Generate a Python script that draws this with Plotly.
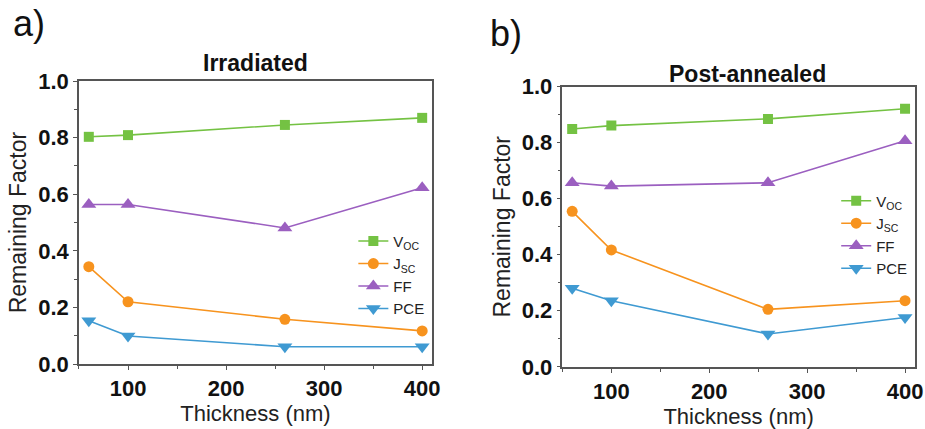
import plotly.graph_objects as go

# Thickness of the absorber layer (nm)
thickness = [60, 100, 260, 400]

# Remaining factor after proton irradiation
irr_voc = [0.803, 0.809, 0.845, 0.870]
irr_jsc = [0.344, 0.220, 0.158, 0.117]
irr_ff = [0.564, 0.564, 0.481, 0.623]
irr_pce = [0.153, 0.099, 0.061, 0.061]

# Remaining factor after post-annealing
ann_voc = [0.849, 0.861, 0.885, 0.921]
ann_jsc = [0.555, 0.417, 0.205, 0.236]
ann_ff = [0.657, 0.645, 0.657, 0.807]
ann_pce = [0.280, 0.236, 0.117, 0.176]

series_names = ["V<sub>OC</sub>", "J<sub>SC</sub>", "FF", "PCE"]
colors = ["#74c243", "#f7931e", "#9b5fc0", "#3f9ad2"]
symbols = ["square", "circle", "triangle-up", "triangle-down"]
marker_sizes = [10, 11, 13, 13]

FONT = "Arial, Liberation Sans, sans-serif"

fig = go.Figure()

panels = [
    ([irr_voc, irr_jsc, irr_ff, irr_pce], "x", "y", "legend"),
    ([ann_voc, ann_jsc, ann_ff, ann_pce], "x2", "y2", "legend2"),
]
for values, xa, ya, lg in panels:
    for name, vals, col, sym, ms in zip(series_names, values, colors, symbols, marker_sizes):
        fig.add_trace(go.Scatter(
            x=thickness, y=vals, name=name, mode="lines+markers",
            xaxis=xa, yaxis=ya, legend=lg,
            line=dict(color=col, width=1.6),
            marker=dict(color=col, symbol=sym, size=ms),
        ))

def x_axis(domain, anchor):
    return dict(
        domain=domain, anchor=anchor, range=[50, 410], automargin=False,
        tickvals=[100, 200, 300, 400], ticks="outside", ticklen=4, tickwidth=1.2,
        tickcolor="#555", showline=True, linecolor="#555", linewidth=1.5, mirror=True,
        showgrid=False, zeroline=False,
        minor=dict(ticks="outside", tickvals=[50, 150, 250, 350], ticklen=3, tickcolor="#555"),
        tickfont=dict(family=FONT, size=22, color="#111", weight="bold"),
        title=dict(text="Thickness (nm)", font=dict(family=FONT, size=22, color="#222"), standoff=2),
    )

def y_axis(domain, anchor):
    return dict(
        domain=domain, anchor=anchor, range=[0, 1.0], automargin=False,
        tickvals=[0, 0.2, 0.4, 0.6, 0.8, 1.0], tickformat=".1f",
        ticks="outside", ticklen=4, tickwidth=1.2, tickcolor="#555",
        showline=True, linecolor="#555", linewidth=1.5, mirror=True,
        showgrid=False, zeroline=False,
        minor=dict(ticks="outside", tickvals=[0.1, 0.3, 0.5, 0.7, 0.9], ticklen=3, tickcolor="#555"),
        tickfont=dict(family=FONT, size=22, color="#111", weight="bold"),
        title=dict(text="Remaining Factor", font=dict(family=FONT, size=23, color="#222"), standoff=5),
    )

legend_style = dict(
    font=dict(family=FONT, size=15, color="#222"), bgcolor="rgba(0,0,0,0)",
    tracegroupgap=0, itemsizing="trace", xanchor="left", yanchor="top",
)

fig.update_layout(
    width=925, height=429,
    margin=dict(l=0, r=0, t=0, b=0),
    paper_bgcolor="white", plot_bgcolor="white",
    showlegend=True,
    xaxis=x_axis([0.0854, 0.467], "y"),
    yaxis=y_axis([0.1515, 0.811], "x"),
    xaxis2=x_axis([0.608, 0.989], "y2"),
    yaxis2=y_axis([0.145, 0.798], "x2"),
    legend=dict(x=0.382, y=0.476, **legend_style),
    legend2=dict(x=0.904, y=0.570, **legend_style),
    annotations=[
        dict(text="a)", x=11 / 925, y=1 - 24 / 429, xref="paper", yref="paper",
             xanchor="left", yanchor="middle", showarrow=False,
             font=dict(family=FONT, size=36, color="#111")),
        dict(text="b)", x=488 / 925, y=1 - 34 / 429, xref="paper", yref="paper",
             xanchor="left", yanchor="middle", showarrow=False,
             font=dict(family=FONT, size=36, color="#111")),
        dict(text="<b>Irradiated</b>", x=255 / 925, y=1 - 63 / 429, xref="paper", yref="paper",
             xanchor="center", yanchor="middle", showarrow=False,
             font=dict(family=FONT, size=23, color="#111")),
        dict(text="<b>Post-annealed</b>", x=747 / 925, y=1 - 74 / 429, xref="paper", yref="paper",
             xanchor="center", yanchor="middle", showarrow=False,
             font=dict(family=FONT, size=23, color="#111")),
    ],
)

fig.write_html("out.html")
